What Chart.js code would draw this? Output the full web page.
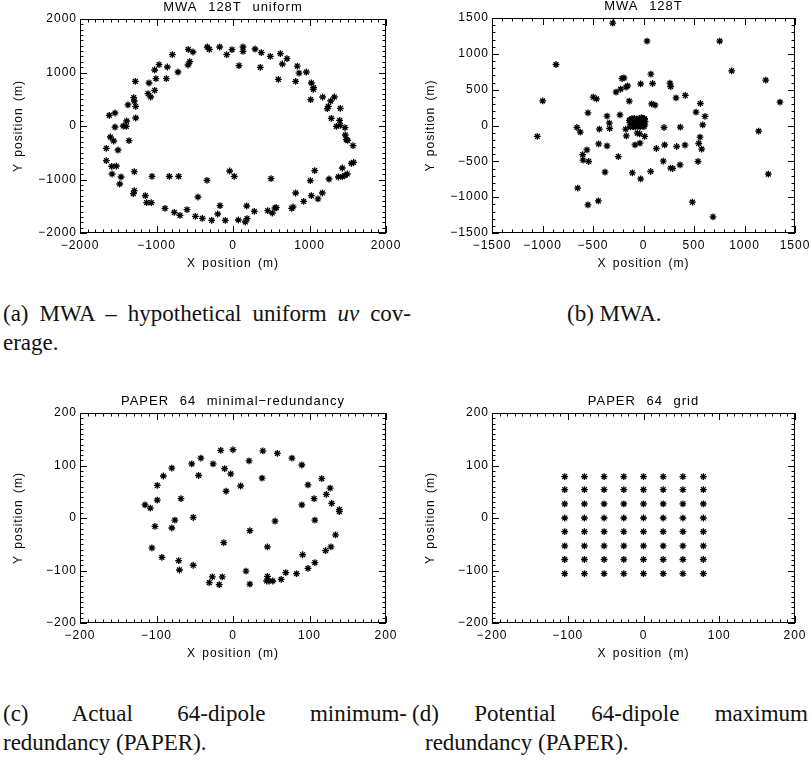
<!DOCTYPE html>
<html>
<head>
<meta charset="utf-8">
<script src="https://cdn.jsdelivr.net/npm/chart.js@4.4.0/dist/chart.umd.min.js"></script>
<style>
body{margin:0;background:#fff;width:811px;height:761px;position:relative;overflow:hidden;font-family:"Liberation Serif","Times New Roman",serif;}
canvas{position:absolute;}
.cap{position:absolute;font-size:23px;line-height:29px;color:#111;white-space:nowrap;}
.just{white-space:normal;text-align:justify;text-align-last:justify;}
</style>
</head>
<body>
<canvas id="pa" width="400" height="280" style="left:0;top:0"></canvas>
<canvas id="pb" width="406" height="280" style="left:405px;top:0"></canvas>
<canvas id="pc" width="400" height="280" style="left:0;top:395px"></canvas>
<canvas id="pd" width="406" height="280" style="left:405px;top:395px"></canvas>

<div class="cap just" style="left:3px;top:299px;width:408px">(a) MWA – hypothetical uniform <i>uv</i> cov-</div>
<div class="cap" style="left:3px;top:328px">erage.</div>
<div class="cap" style="left:567px;top:299px">(b) MWA.</div>
<div class="cap just" style="left:3px;top:699px;width:404px">(c) Actual 64-dipole minimum-</div>
<div class="cap" style="left:3px;top:728px">redundancy (PAPER).</div>
<div class="cap just" style="left:412px;top:699px;width:396px">(d) Potential 64-dipole maximum</div>
<div class="cap" style="left:425px;top:728px">redundancy (PAPER).</div>

<script>
// (a) MWA 128T uniform
const aX=[-1617,-1542,-1542,-1390,-1395,-1435,-1373,-1298,-1290,-1272,
  -1277,-1272,-1359,-1603,-1560,-1656,-1503,-1656,-1586,-1525,
  -1581,-1464,-1481,-1290,-1290,-1303,-1146,-1129,-1068,-1059,
  -832,-710,-889,-767,-693,-601,-458,-492,-401,-340,
  -279,-200,-170,-100,-44,17,70,179,161,183,
  279,453,497,514,549,566,767,784,819,924,
  1024,1111,1168,1011,1068,1255,1377,1429,1464,1494,
  1429,1547,1577,1569,1481,1499,1468,1464,1403,1394,
  1351,1285,1403,1325,1277,1246,1233,1172,1015,1050,
  1054,1024,959,863,819,841,706,645,619,593,
  488,370,357,288,78,131,131,-13,-83,-174,
  -309,-336,-523,-584,-566,-588,-719,-793,-858,-871,
  -967,-1007,-1024,-1024,-1098,-1111,-1076];
const aY=[199,243,-19,93,-6,0,393,530,467,368,
  835,150,-274,-206,-280,-417,-449,-648,-754,-748,
  -897,-953,-1084,-854,-1209,-1265,-1302,-1433,-1433,-941,
  -941,-941,-1539,-1614,-1670,-1564,-1327,-1688,-1726,-1016,
  -1763,-1645,-1489,-1763,-841,-941,-1757,-1495,-1794,-1732,
  -1595,-1583,-984,-1626,-1533,-1526,-1539,-1514,-1252,-1408,
  -1302,-1364,-1252,-1022,-835,-991,-953,-947,-922,-897,
  -785,-698,-679,-368,-255,-268,-168,-31,12,106,
  -6,143,330,542,467,368,324,542,492,685,
  716,804,1009,990,835,1121,1259,1159,1352,872,
  1302,1371,1097,1439,1128,1477,1396,1427,1333,1477,
  1433,1477,1383,1433,1202,1140,1009,1333,1103,885,
  1146,885,1047,667,804,604,542];

// (b) MWA 128T
const bX=[-305,35,754,-866,-998,-1051,873,1210,1351,1140,
  1236,688,484,-550,-447,-652,-659,-626,-550,-497,
  -465,-602,-599,-560,-543,-444,-437,-381,-361,-361,
  -338,-335,-249,-272,-233,-226,-213,-193,-173,-157,
  -141,-176,-170,-110,-84,-35,-28,-28,-61,-38,
  12,73,90,80,114,71,127,203,209,196,
  269,289,262,269,322,328,365,362,414,411,
  520,563,540,547,560,576,586,609,
  -135,-130,-125,-120,-115,-110,-105,-100,-95,-90,
  -88,-82,-78,-72,-68,-64,-60,-55,-50,-46,
  -42,-38,-33,-30,-25,-20,-16,-12,-8,-4,
  0,4,8,12,15,-140,-128,-98,-20,10];
const bY=[1428,1177,1177,851,344,-153,763,633,326,-79,
  -679,-1274,-1070,-1107,-1051,-874,-28,-93,177,395,
  372,-405,-484,-340,-502,-256,-51,-651,-284,130,
  33,-42,-433,465,149,507,656,665,535,553,
  340,-51,-144,-660,-270,-247,-744,581,-107,-116,
  -153,716,586,302,284,-642,-321,-28,-270,-498,
  -595,-600,591,544,386,-293,-23,-549,419,-274,
  186,307,-502,-251,-163,-330,9,126,
  40,80,0,60,95,20,-15,70,45,100,
  5,-20,75,30,55,90,10,-10,70,40,
  100,20,-20,60,85,35,0,65,100,20,
  45,-15,80,10,55,70,-20,-5,110,95];

// (c) PAPER 64 minimal-redundancy
const cX=[-115,-108,-102,-106,-93,-99,-99,-91,-80,-68,
  -76,-80,-71,-70,-52,-52,-54,-42,-45,-31,
  -27,-18,-14,-26,-16,-12,-11,-9,-3,0,
  10,17,22,22,21,38,39,45,45,44,
  47,52,55,58,63,69,77,83,90,90,
  91,98,98,106,107,107,116,121,122,127,
  128,129,134,139,139];
const cY=[25,19,-16,-57,-75,34,62,80,95,37,
  -4,-19,-81,-99,1,-90,103,114,81,-123,
  -112,-127,-112,103,129,-47,94,51,84,130,
  61,-101,-24,-126,109,76,128,-55,-111,-120,
  -120,-120,-6,123,-117,-104,114,-106,25,101,
  -70,-96,63,37,-4,-85,75,-62,45,57,
  -55,28,-32,16,12];

// (d) PAPER 64 grid
const dX=[-104,-78,-52,-26,0,26,52,79];
const dY=[79,54,27,0,-26,-53,-79,-106];

const AXFONT='"Liberation Sans", Arial, sans-serif';

const idlFrame={
  id:'idlFrame',
  beforeDraw(chart){ chart.ctx.letterSpacing='1px'; },
  afterDraw(chart,args,o){
    const ctx=chart.ctx, a=chart.chartArea, x=chart.scales.x, y=chart.scales.y;
    const isMajor=(v,s)=>Math.abs(v/s-Math.round(v/s))<1e-6;
    ctx.save();
    ctx.strokeStyle='#000';ctx.lineWidth=1;
    ctx.strokeRect(a.left+0.5,a.top+0.5,a.right-a.left-1,a.bottom-a.top-1);
    ctx.beginPath();
    let n=Math.round((x.max-x.min)/o.xMinor);
    for(let i=0;i<=n;i++){
      const v=x.min+i*o.xMinor, px=Math.round(x.getPixelForValue(v))+0.5;
      const len=isMajor(v,o.xStep)?7:3.5;
      ctx.moveTo(px,a.bottom);ctx.lineTo(px,a.bottom-len);
      ctx.moveTo(px,a.top);ctx.lineTo(px,a.top+len);
    }
    n=Math.round((y.max-y.min)/o.yMinor);
    for(let i=0;i<=n;i++){
      const v=y.min+i*o.yMinor, py=Math.round(y.getPixelForValue(v))+0.5;
      const len=isMajor(v,o.yStep)?7:3.5;
      ctx.moveTo(a.left,py);ctx.lineTo(a.left+len,py);
      ctx.moveTo(a.right,py);ctx.lineTo(a.right-len,py);
    }
    ctx.stroke();
    ctx.fillStyle='#000';
    ctx.font='13px '+AXFONT;
    ctx.letterSpacing='1px';
    ctx.textAlign='center';
    ctx.textBaseline='alphabetic';
    if('wordSpacing' in ctx) ctx.wordSpacing='6px';
    ctx.fillText(o.title,(a.left+a.right)/2,a.top-8);
    ctx.font='12px '+AXFONT;
    if('wordSpacing' in ctx) ctx.wordSpacing='2px';
    ctx.textBaseline='middle';
    ctx.fillText('X position (m)',(a.left+a.right)/2,a.bottom+31);
    ctx.translate(a.left-61,(a.top+a.bottom)/2);
    ctx.rotate(-Math.PI/2);
    ctx.fillText('Y position (m)',0,0);
    ctx.restore();
  }
};

const fmt=v=>String(v).replace('-','\u2212');

function panel(id,pts,p){
  new Chart(document.getElementById(id),{
    type:'scatter',
    data:{datasets:[{data:pts,pointStyle:'star',pointRadius:3.4,pointHoverRadius:3.4,pointBorderWidth:1.3,
      borderColor:'#000',backgroundColor:'#000',pointBorderColor:'#000',pointBackgroundColor:'#000'}]},
    options:{
      responsive:false,animation:false,devicePixelRatio:1,
      layout:{padding:{left:0,top:p.top,right:p.right,bottom:0}},
      plugins:{legend:{display:false},tooltip:{enabled:false},title:{display:false},
        idlFrame:{title:p.title,xStep:p.xStep,xMinor:p.xMinor,yStep:p.yStep,yMinor:p.yMinor}},
      scales:{
        x:{type:'linear',min:p.xMin,max:p.xMax,
          grid:{display:false,drawTicks:false},border:{display:false},
          ticks:{stepSize:p.xStep,padding:5,color:'#000',font:{family:AXFONT,size:12},callback:fmt,maxRotation:0,autoSkip:false},
          afterFit:s=>{s.height=p.xh;s.paddingLeft=0;s.paddingRight=0;}},
        y:{type:'linear',min:p.yMin,max:p.yMax,
          grid:{display:false,drawTicks:false},border:{display:false},
          ticks:{stepSize:p.yStep,padding:3,color:'#000',font:{family:AXFONT,size:12},callback:fmt,autoSkip:false},
          afterFit:s=>{s.width=p.yw;s.paddingTop=0;s.paddingBottom=0;}}
      }
    },
    plugins:[idlFrame]
  });
}

const ptsA=aX.map((x,i)=>({x:x,y:aY[i]}));
const ptsB=bX.map((x,i)=>({x:x,y:bY[i]}));
const ptsC=cX.map((x,i)=>({x:x,y:cY[i]}));
const ptsD=[];
dY.forEach(y=>dX.forEach(x=>ptsD.push({x:x,y:y})));

panel('pa',ptsA,{title:'MWA 128T uniform',xMin:-2000,xMax:2000,xStep:1000,xMinor:100,yMin:-2000,yMax:2000,yStep:1000,yMinor:100,top:19,right:14,xh:47,yw:80});
panel('pb',ptsB,{title:'MWA 128T',xMin:-1500,xMax:1500,xStep:500,xMinor:100,yMin:-1500,yMax:1500,yStep:500,yMinor:100,top:18,right:16,xh:47,yw:87});
panel('pc',ptsC,{title:'PAPER 64 minimal\u2212redundancy',xMin:-200,xMax:200,xStep:100,xMinor:10,yMin:-200,yMax:200,yStep:100,yMinor:10,top:18,right:14,xh:52,yw:80});
panel('pd',ptsD,{title:'PAPER 64 grid',xMin:-200,xMax:200,xStep:100,xMinor:10,yMin:-200,yMax:200,yStep:100,yMinor:10,top:18,right:16,xh:52,yw:87});
</script>
</body>
</html>
